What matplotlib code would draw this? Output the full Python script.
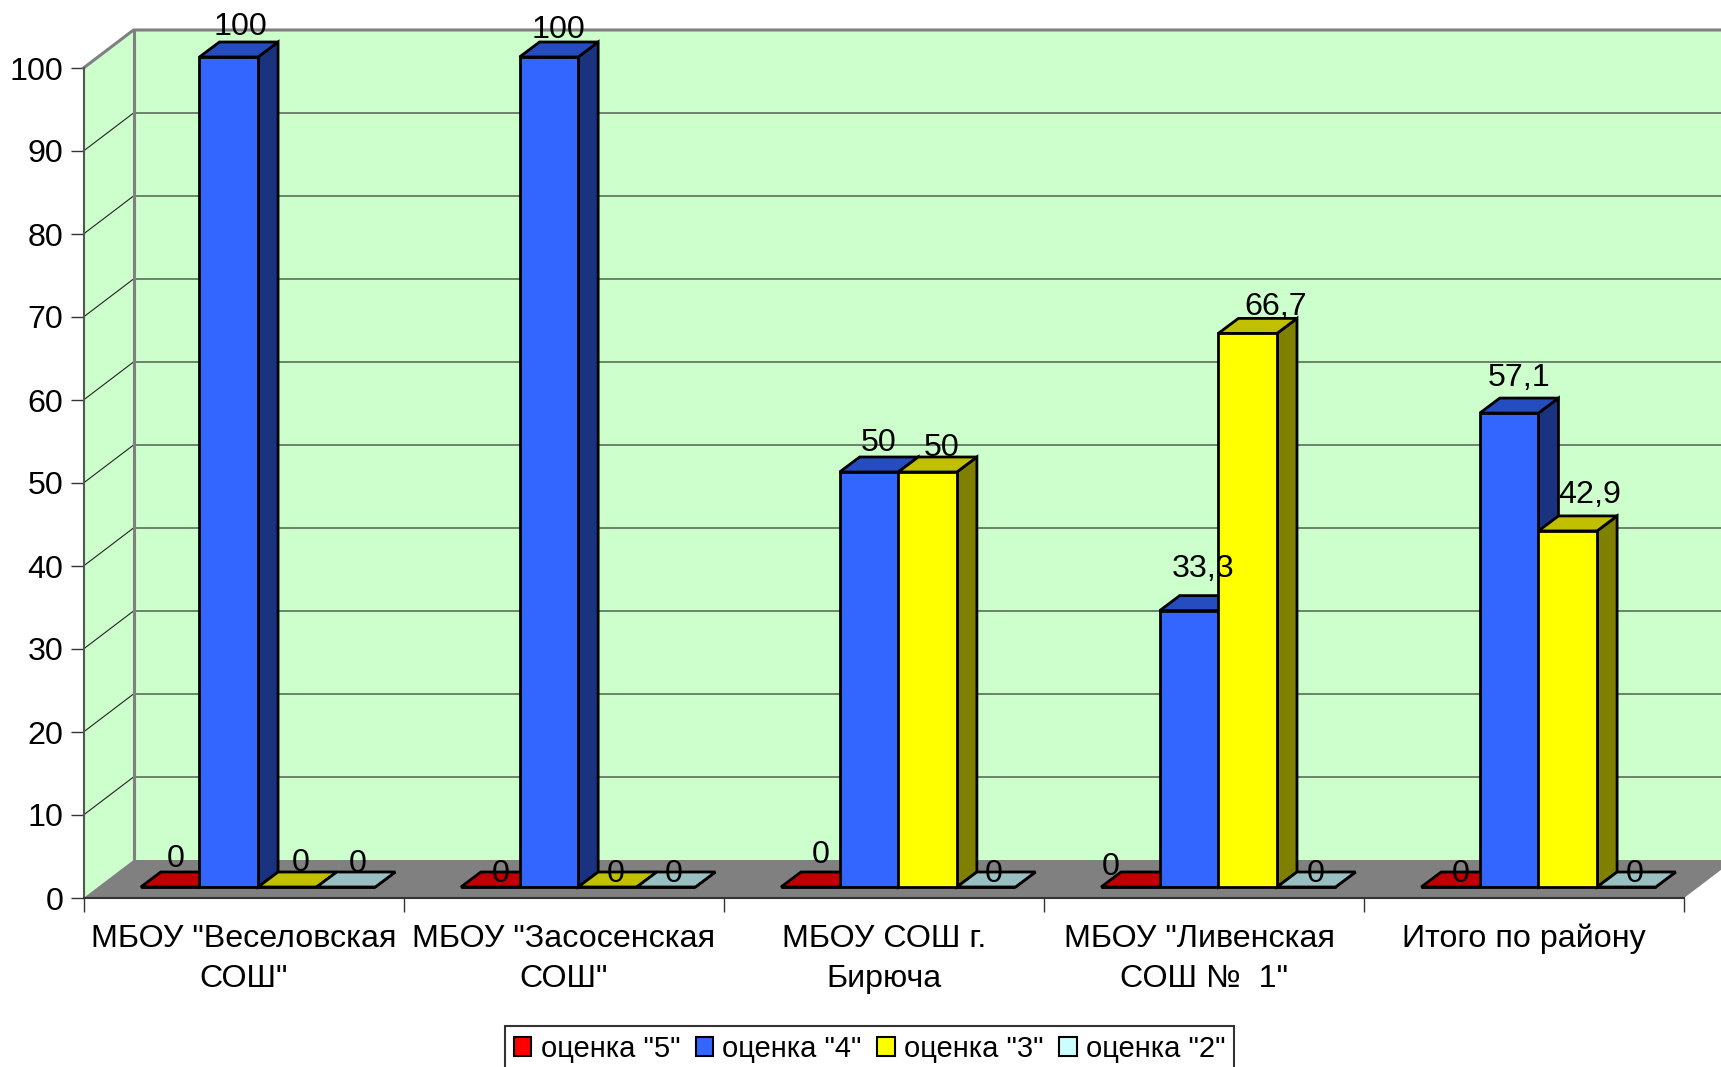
import matplotlib
matplotlib.use('Agg')
import matplotlib.pyplot as plt
from matplotlib.patches import Patch

plt.rcParams['font.family'] = ['Liberation Sans', 'DejaVu Sans']

schools = ['МБОУ "Веселовская\nСОШ"', 'МБОУ "Засосенская\nСОШ"', 'МБОУ СОШ г.\nБирюча',
           'МБОУ "Ливенская \nСОШ №  1"', 'Итого по району']
series_names = ['оценка "5"', 'оценка "4"', 'оценка "3"', 'оценка "2"']
grade_5 = [0, 0, 0, 0, 0]
grade_4 = [100, 100, 50, 33.3, 57.1]
grade_3 = [0, 0, 50, 66.7, 42.9]
grade_2 = [0, 0, 0, 0, 0]
y_ticks = [0, 10, 20, 30, 40, 50, 60, 70, 80, 90, 100]

# front, top, side colours for each series
front_colors = ['#FF0000', '#3366FF', '#FFFF00', '#CCFFFF']
top_colors = ['#C00000', '#264DBF', '#C0C000', '#99C0C0']
side_colors = ['#800000', '#193380', '#808000', '#668080']

# the data labels in the picture sit unevenly, shifts are in pixels from the bar top centre
label_shift = [
    [(6, 28), (12, 30), (13, 24), (12, 23)],
    [(10, 13), (10, 27), (8, 13), (8, 13)],
    [(10, 32), (10, 29), (14, 24), (8, 13)],
    [(-20, 20), (14, 42), (28, 26), (9, 13)],
    [(10, 13), (10, 35), (22, 36), (8, 13)],
]

px_x = 320.0    # pixels per category
px_y = 8.3      # pixels per 1 on the value axis
wall_dx, wall_dy = 50 / px_x, 38 / px_y
bar_dx, bar_dy = 20 / px_x, 15 / px_y
shift_x, shift_y = 14.5 / px_x, 11 / px_y
bar_w = 58.6 / px_x

fig = plt.figure(figsize=(17.21, 10.67), dpi=100, facecolor='white')
ax = fig.add_axes([83.5 / 1721, 1 - 898 / 1067, 1600.5 / 1721, 830 / 1067])
ax.patch.set_visible(False)
ax.set_xlim(-0.5, 4.5)
ax.set_ylim(0, 100)
ax.set_autoscale_on(False)

left, right = -0.5, 4.5
GRID = '#222222'
WALL = '#808080'
FONT = 23.2
EDGE = 2.0

# walls and floor
ax.fill([left + wall_dx, right + wall_dx, right + wall_dx, left + wall_dx],
        [wall_dy, wall_dy, 100 + wall_dy, 100 + wall_dy], color='#CCFFCC', lw=0, zorder=1, clip_on=False)
ax.fill([left, left + wall_dx, left + wall_dx, left],
        [0, wall_dy, 100 + wall_dy, 100], color='#CCFFCC', lw=0, zorder=1, clip_on=False)
ax.fill([left, right, right + wall_dx, left + wall_dx],
        [0, 0, wall_dy, wall_dy], color=WALL, lw=0, zorder=2, clip_on=False)

for v in y_ticks[1:-1]:
    ax.plot([left, left + wall_dx, right + wall_dx], [v, v + wall_dy, v + wall_dy],
            color=GRID, lw=0.8, zorder=2, clip_on=False)
ax.plot([left + wall_dx, left + wall_dx], [wall_dy, 100 + wall_dy], color=WALL, lw=2.2, zorder=2, clip_on=False)
ax.plot([left, left + wall_dx, right + wall_dx], [100, 100 + wall_dy, 100 + wall_dy],
        color=WALL, lw=2.2, zorder=2, clip_on=False)

# bars, series by series inside every group so the later ones cover the earlier ones
series = [grade_5, grade_4, grade_3, grade_2]
z = 3
for i in range(len(schools)):
    for j, values in enumerate(series):
        v = values[i]
        x0 = i - 2 * bar_w + j * bar_w + shift_x
        x1 = x0 + bar_w
        y0 = shift_y
        y1 = shift_y + v
        ax.fill([x1, x1 + bar_dx, x1 + bar_dx, x1], [y0, y0 + bar_dy, y1 + bar_dy, y1],
                facecolor=side_colors[j], edgecolor='black', lw=EDGE, zorder=z, clip_on=False)
        ax.fill([x0, x1, x1 + bar_dx, x0 + bar_dx], [y1, y1, y1 + bar_dy, y1 + bar_dy],
                facecolor=top_colors[j], edgecolor='black', lw=EDGE, zorder=z, clip_on=False)
        bars = ax.bar(x0, v, width=bar_w, bottom=y0, align='edge', color=front_colors[j],
                      edgecolor='black', linewidth=EDGE, zorder=z)
        for b in bars:
            b.set_clip_on(False)
        z += 1
        txt = f'{v:g}'.replace('.', ',')
        ax.annotate(txt, xy=(x0 + bar_w / 2, y1), xytext=label_shift[i][j], textcoords='offset pixels',
                    ha='center', va='center', fontsize=FONT, color='black', zorder=100, annotation_clip=False)

# axes
for name in ['top', 'right']:
    ax.spines[name].set_visible(False)
ax.spines['left'].set_color('#555555')
ax.spines['left'].set_linewidth(1.5)
ax.spines['bottom'].set_color('#333333')
ax.spines['bottom'].set_linewidth(1.5)
ax.spines['left'].set_zorder(50)
ax.spines['bottom'].set_zorder(50)

ax.set_yticks(y_ticks)
ax.tick_params(axis='y', direction='out', length=9.5, width=1, color='#333333', labelsize=FONT, pad=5)
ax.set_xticks([-0.5, 0.5, 1.5, 2.5, 3.5, 4.5])
ax.set_xticklabels([])
ax.tick_params(axis='x', which='major', direction='out', length=10, width=1, color='#333333')
ax.set_xticks(range(len(schools)), minor=True)
ax.set_xticklabels(schools, minor=True, fontsize=FONT, linespacing=1.43)
ax.tick_params(axis='x', which='minor', length=0, pad=18.7)

handles = [Patch(facecolor=c, edgecolor='black', linewidth=1.5) for c in front_colors]
leg = ax.legend(handles, series_names, ncol=4, loc='upper left',
                bbox_to_anchor=(505 / 1721, 1 - 1026 / 1067), bbox_transform=fig.transFigure,
                borderaxespad=0, fontsize=21, frameon=True, fancybox=False, framealpha=1,
                edgecolor='#333333', handlelength=0.6, handleheight=0.6, handletextpad=0.32,
                columnspacing=0.53, borderpad=0.3)
leg.get_frame().set_linewidth(1.5)

fig.savefig('out.png', dpi=100, facecolor='white')
